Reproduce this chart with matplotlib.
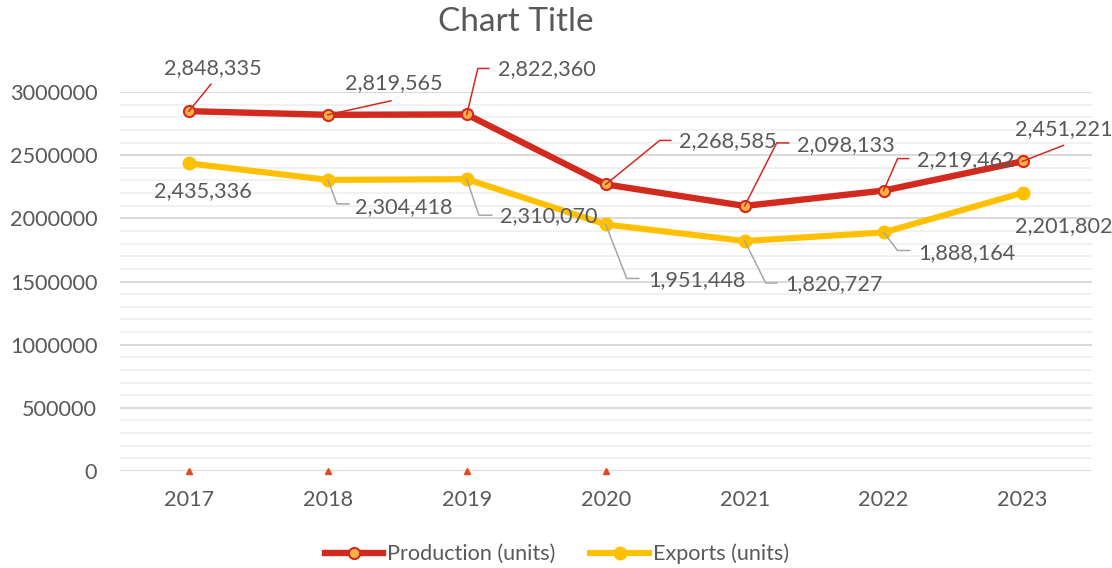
import matplotlib
matplotlib.use("Agg")
import matplotlib.pyplot as plt
import matplotlib.transforms as mtransforms
from matplotlib.lines import Line2D
import numpy as np

# ---- data ----
years = ["2017", "2018", "2019", "2020", "2021", "2022", "2023"]
production = [2848335, 2819565, 2822360, 2268585, 2098133, 2219462, 2451221]
exports = [2435336, 2304418, 2310070, 1951448, 1820727, 1888164, 2201802]
zero_marks = [0, 0, 0, 0]          # small markers at the baseline (first four years)
yticks = [0, 500000, 1000000, 1500000, 2000000, 2500000, 3000000]

# ---- label placement (pixel offsets: label centre, leader vertices) ----
prod_label_off = [(24, 43), (66, 32), (80, 45), (122, 43), (101, 61), (82, 31), (41, 32)]
prod_leader = [[(22, 27)], [(63, 14)], [(11, 46), (22, 46)], [(54, 44), (65, 44)],
               [(32, 63), (44, 63)], [(14, 32), (25, 32)], [(41, 16)]]
exp_label_off = [(14, -28), (76, -27), (82, -37), (91, -56), (89, -43), (83, -21), (41, -33)]
exp_leader = [None, [(9, -24), (21, -24)], [(12, -36), (25, -36)], [(21, -54), (33, -54)],
              [(21, -42), (32, -42)], [(14, -18), (26, -18)], None]

RED = "#D32A1F"
RED_FACE = "#F7B046"
YELLOW = "#FFC000"
TXT = "#595959"
FONT = "Lato"
FS = 15.6

plt.rcParams["font.family"] = [FONT, "DejaVu Sans"]

W, H = 1112, 568
fig = plt.figure(figsize=(W / 100, H / 100), dpi=100)
ax = fig.add_axes([119.5 / W, (H - 471) / H, (1092 - 119.5) / W, (471 - 92) / H])

x = np.arange(len(years))
ax.set_xlim(-0.5, len(years) - 0.5)
ax.set_ylim(0, 3000000)

# gridlines
ax.set_yticks(yticks)
ax.set_yticks(np.arange(0, 3000001, 100000), minor=True)
ax.yaxis.grid(True, which="major", color="#D9D9D9", lw=1.4, zorder=0)
ax.yaxis.grid(True, which="minor", color="#F0F0F0", lw=1.3, zorder=0)
ax.set_axisbelow(True)
for s in ax.spines.values():
    s.set_visible(False)
ax.tick_params(axis="both", which="both", length=0)
ax.tick_params(axis="y", pad=16, labelsize=FS, labelcolor=TXT)
ax.tick_params(axis="x", pad=14, labelsize=FS, labelcolor=TXT)
ax.set_xticks(x)
ax.set_xticklabels(years)
ax.set_yticklabels([str(v) for v in yticks])

# series
ax.plot(x, production, color=RED, lw=4.6, marker="o", ms=8, mfc=RED_FACE,
        mec=RED, mew=1.5, zorder=4, solid_capstyle="round")
ax.plot(x, exports, color=YELLOW, lw=4.4, marker="o", ms=9, mfc=YELLOW,
        mec=YELLOW, zorder=3, solid_capstyle="round")
ax.plot(x[:len(zero_marks)], zero_marks, ls="none", marker="^", ms=4.5,
        color="#E8461E", zorder=5, clip_on=False)

# data labels with leader lines
ident = mtransforms.IdentityTransform()

def add_labels(vals, offs, leaders, lcolor):
    for i, v in enumerate(vals):
        dx, dy = offs[i]
        ax.annotate(f"{v:,}", xy=(x[i], v), xytext=(dx, dy), textcoords="offset pixels",
                    ha="center", va="center", fontsize=FS, color=TXT, zorder=6)
        if leaders[i]:
            px, py = ax.transData.transform((x[i], v))
            xs = [px] + [px + a for a, b in leaders[i]]
            ys = [py] + [py + b for a, b in leaders[i]]
            ln = Line2D(xs, ys, transform=ident, color=lcolor, lw=1.1, zorder=6)
            fig.add_artist(ln)

add_labels(production, prod_label_off, prod_leader, RED)
add_labels(exports, exp_label_off, exp_leader, "#A6A6A6")

# title
fig.text(516 / W, 1 - 22 / H, "Chart Title", ha="center", va="center",
         fontsize=24, color=TXT)

# legend
handles = [
    Line2D([], [], color=RED, lw=4.6, marker="o", ms=8, mfc=RED_FACE, mec=RED, mew=1.5),
    Line2D([], [], color=YELLOW, lw=4.4, marker="o", ms=9, mfc=YELLOW, mec=YELLOW),
]
fig.legend(handles, ["Production (units)", "Exports (units)"], loc="center",
           bbox_to_anchor=(557 / W, 1 - 554 / H), ncol=2, frameon=False,
           fontsize=FS, labelcolor=TXT, handlelength=2.7, handletextpad=0.2,
           columnspacing=1.6)

fig.savefig("out.png", dpi=100)
